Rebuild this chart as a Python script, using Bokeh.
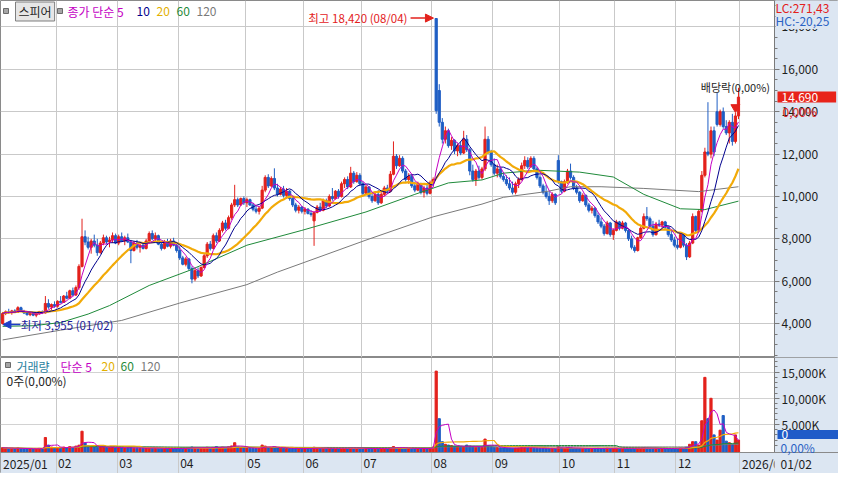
import numpy as np
import pandas as pd
from bokeh.plotting import figure
from bokeh.models import (Range1d, FixedTicker, Label, Arrow, NormalHead,
                          BoxAnnotation, NumeralTickFormatter, Span)
from bokeh.layouts import column
from bokeh.embed import file_html
from bokeh.resources import INLINE
from bokeh.core.properties import value

# ---------------- data ----------------
month_labels = ["2025/01", "02", "03", "04", "05", "06", "07", "08", "09", "10", "11", "12", "2026/0"]
month_start = [0, 18, 38, 58, 80, 99, 118, 141, 161, 183, 201, 221, 242]

open_ = [
    4000,4480,4560,4520,4600,4540,4750,4580,4500,4420,4480,4400,4460,4560,4500,4950,4780,4900,
    4820,5050,5000,5300,5200,5550,5350,5700,6700,8100,7850,7600,7900,7700,7350,7800,8050,7850,7950,8150,
    7800,8100,7900,8050,7850,7450,7800,7600,7700,7550,7900,8250,8000,8150,7750,7550,7850,7650,7900,7700,
    7450,7100,6800,7050,6600,6100,6500,6250,6650,7200,7750,7550,8150,7900,8400,8750,8500,9000,9600,9850,9600,9900,
    9700,9850,9600,9400,9300,9450,10300,10900,10500,10850,10400,10100,10350,10050,10250,9900,9600,9350,9500,
    9300,9400,9200,8850,9250,9500,9350,9800,9550,10000,9900,10250,10000,10600,10800,10450,11100,10700,11000,
    10600,10150,10450,10000,9800,10100,9700,10100,10400,10250,11050,11900,11450,11800,11200,10800,10950,10500,10300,10600,10200,10400,10150,
    10650,18400,15000,13500,12700,13100,12400,12650,12150,12400,12050,12700,12200,11200,10800,11200,10900,11300,12700,12100,
    11500,11100,11300,10950,10800,10600,10400,10200,10600,10800,11450,11700,11400,11800,11300,10900,10500,10200,10000,9800,10100,11700,
    10700,10250,10700,11200,10900,10400,10200,9800,10050,9600,9350,9450,9100,8800,8600,8250,8750,8200,
    8400,8800,8500,8750,8400,8000,7600,7450,8050,8500,9050,8950,8600,8200,8700,8650,8800,8550,8200,7950,
    7700,7600,8200,7700,7150,7800,9050,8400,9300,11000,12100,12000,13100,14000,13400,14000,13300,13000,13500,12600,13800,
]
high = [
    4550,4620,4700,4650,4680,4820,4800,4650,4600,4550,4520,4500,4600,4620,5300,5150,4950,5050,
    5100,5300,5350,5500,5600,5700,5800,6800,8950,8400,8100,8000,8200,8000,7900,8200,8150,8100,8300,8250,
    8200,8300,8150,8250,7950,7900,7950,7800,7850,8000,8350,8400,8300,8200,7850,7950,8000,8000,8050,7800,
    7650,7200,7150,7100,6700,6600,6650,6700,7300,7850,7900,8250,8300,8500,8850,8900,9100,9700,10550,9950,9950,10000,
    9950,9900,9700,9550,9500,10500,11000,11050,10950,11330,10600,10450,10500,10400,10300,10000,9700,9600,9550,
    9500,9450,9350,9300,9600,9700,9900,9900,10100,10400,10300,10350,10700,10900,10950,11400,11200,11150,11100,
    10700,10550,10500,10150,10200,10300,10200,10500,10550,11200,12600,12000,11950,11900,11300,11100,11050,10700,10700,10650,10500,10550,10750,
    10900,18420,15300,13700,13300,13200,12800,12700,12500,12600,13100,12900,12300,11500,11300,11450,11400,13300,12850,12200,
    11800,11500,11400,11150,11000,10900,10700,10700,10900,11600,11900,11850,11900,11900,11400,11000,10600,10550,10250,10200,10150,11950,
    10750,10800,11300,11550,11000,10550,10250,10150,10100,9700,9550,9500,9250,9000,8700,8850,8800,8500,
    8900,8850,8850,8800,8450,8150,7700,8100,8600,9200,9500,9050,8850,8800,8900,8850,8850,8600,8400,8100,
    8000,8300,8250,7800,7900,9200,9100,9400,11200,12300,14450,13300,13300,14900,14100,14200,13600,13600,13900,13950,15130,
]
low = [
    3955,4400,4480,4420,4500,4520,4550,4450,4380,4350,4350,4300,4420,4450,4480,4700,4650,4750,
    4750,4950,4980,5150,5150,5300,5300,5600,6650,7700,7500,7300,7600,7200,7300,7700,7750,7600,7800,7750,
    7700,7850,7700,7800,6850,7400,7500,7350,7500,7500,7850,7950,7900,7700,7450,7500,7600,7550,7650,7350,
    7000,6750,6700,6500,5900,6000,6150,6200,6600,7100,7450,7500,7800,7850,8300,8400,8450,8900,9500,9500,9550,9600,
    9500,9550,9300,9200,9150,9400,10200,10400,10450,10300,10000,10050,9950,9900,9800,9500,9250,9200,9200,
    9150,9150,9050,7670,9200,9300,9300,9450,9500,9800,9850,9900,9950,10400,10350,10400,10600,10650,10500,
    10050,10100,9900,9700,9750,9600,9650,10000,10150,10200,11000,11300,11400,11100,10700,10600,10400,10200,10250,10100,9950,10050,10100,
    10550,13900,13300,12500,12500,12300,12200,12000,11900,11950,12000,12100,11000,10700,10500,10800,10800,11200,12000,11400,
    11000,10900,10850,10700,10500,10300,10100,10100,10400,10750,11300,11300,11350,11200,10800,10400,10100,9900,9600,9700,9600,10600,
    10150,10200,10600,10800,10300,10100,9700,9750,9500,9250,9200,9000,8700,8500,8150,8200,8100,7950,
    8350,8400,8450,8300,7900,7500,7350,7400,8000,8450,8850,8500,8100,8150,8550,8500,8450,8100,7850,7600,
    7500,7550,7600,7000,7100,7750,8300,8350,9250,10900,11900,11800,11900,13300,13300,13200,12900,12500,12400,12500,13650,
]
close = [
    4480,4560,4520,4600,4540,4750,4580,4500,4420,4480,4400,4460,4560,4500,4950,4780,4900,4820,
    5050,5000,5300,5200,5550,5350,5700,6700,8100,7850,7600,7900,7700,7350,7800,8050,7850,7950,8150,7800,
    8100,7900,8050,7850,7450,7800,7600,7700,7550,7900,8250,8000,8150,7750,7550,7850,7650,7900,7700,7450,
    7100,6800,7050,6600,6100,6500,6250,6650,7200,7750,7550,8150,7900,8400,8750,8500,9000,9600,9850,9600,9900,9700,
    9850,9600,9400,9300,9450,10300,10900,10500,10850,10400,10100,10350,10050,10250,9900,9600,9350,9500,9300,
    9400,9200,9150,9250,9500,9350,9800,9550,10000,9900,10250,10000,10600,10800,10450,11100,10700,11000,10600,
    10150,10450,10000,9800,10100,9700,10100,10400,10250,11050,11900,11450,11800,11200,10800,10950,10500,10300,10600,10200,10400,10150,10650,
    10800,14050,13500,12700,13100,12400,12650,12150,12400,12050,12700,12200,11200,10800,11200,10900,11300,12700,12100,11500,
    11100,11300,10950,10800,10600,10400,10200,10600,10800,11450,11700,11400,11800,11300,10900,10500,10200,10000,9800,10100,9700,10700,
    10250,10700,11200,10900,10400,10200,9800,10050,9600,9350,9450,9100,8800,8600,8250,8750,8200,8400,
    8800,8500,8750,8400,8000,7600,7450,8050,8500,9050,8950,8600,8200,8700,8650,8800,8550,8200,7950,7700,
    7600,8200,7700,7150,7800,9050,8400,9300,11000,12100,12000,13100,12100,13400,14000,13300,13000,13500,12600,13800,14690,
]
volume_k = [
    570,460,410,430,380,500,390,350,340,360,330,370,410,390,2500,1050,670,530,
    600,530,670,550,760,630,850,1030,3700,1450,910,770,690,630,740,660,580,610,670,530,
    570,500,480,530,610,460,440,420,450,490,570,450,430,410,390,380,420,400,370,390,
    410,450,430,500,670,530,450,480,570,630,510,600,750,570,660,610,710,890,1500,670,550,530,
    500,450,430,410,420,1050,850,630,570,710,530,450,430,410,400,390,410,380,370,
    380,370,360,630,450,410,430,400,450,420,410,400,480,450,430,570,460,430,410,
    420,400,390,380,390,410,400,420,390,530,770,570,510,450,430,410,400,390,400,380,390,370,450,
    670,15200,6100,1700,1200,1050,950,850,800,750,710,1050,850,750,650,670,630,2200,950,750,
    650,570,530,510,490,470,450,480,510,630,570,500,480,450,440,430,420,450,410,430,400,770,
    530,450,570,500,450,430,410,420,400,390,380,410,430,390,410,450,400,420,
    450,430,410,400,410,450,430,470,450,530,450,420,400,430,390,380,400,390,410,430,
    450,500,470,650,1200,1700,1700,1050,5700,14000,6100,10000,3000,2000,3900,6700,1800,1500,1200,3000,2000,
]
# long moving averages (trading-day index, price)
ma60_idx = [0, 10, 19, 28, 35, 48, 61, 69, 80, 98, 119, 135, 146, 157, 164, 175, 189, 200, 210, 222, 230, 241]
ma60_val = [3870, 3900, 4050, 4450, 4850, 5800, 6500, 7000, 7700, 8400, 9270, 10100, 10640, 10780, 11100, 11240, 11150, 10920, 10100, 9420, 9380, 9780]
ma120_idx = [0, 19, 39, 58, 80, 90, 119, 141, 157, 164, 178, 186, 196, 210, 228, 241]
ma120_val = [3230, 3690, 4150, 4970, 5840, 6430, 7940, 9040, 9640, 9960, 10230, 10460, 10460, 10380, 10230, 10460]
exdiv_idx = 240
hi_text_date = "(08/04)"
lo_text_date = "(01/02)"

n = len(close)
assert all(len(a) == n for a in (open_, high, low, volume_k)), [len(a) for a in (open_, high, low, close, volume_k)]

# ---------------- style ----------------
KFONT = "Noto Sans CJK KR"
RED = "#E3211C"
BLUE = "#1F5EC4"
MAG = "#C400C4"
NAVY = "#00008E"
GOLD = "#F2AA08"
GOLD_T = "#E3B000"
GREEN = "#1F8A3A"
GRAY = "#7A7A7A"
PANEL = "#DCE6F2"
GRID = "#C9C9C9"
OUT = "#8A8A8A"
TXT = "#1E1E1E"

W = 838
PH = 357
VH = 116
XAX = 21
VFH = VH - XAX
X0 = -0.7
PANEL_X = 252.8                  # left edge of the right-hand scale panel (in bar index units)
FW = 774                         # pixels from the left edge to the scale panel
PX = FW / (PANEL_X - X0)
X1 = X0 + W / PX

idx = np.arange(n)
o = np.array(open_, float); h = np.array(high, float); l = np.array(low, float); c = np.array(close, float)
vol = np.array(volume_k, float)
up = c >= o
ccol = np.where(up, RED, BLUE)
prev = np.concatenate([[o[0]], c[:-1]])
vcol = np.where(c >= prev, RED, BLUE)

cs = pd.Series(c)
ma5 = cs.rolling(5, min_periods=1).mean()
ma10 = cs.rolling(10, min_periods=1).mean()
ma20 = cs.rolling(20, min_periods=1).mean()
vs = pd.Series(vol)
vma5 = vs.rolling(5, min_periods=1).mean()
vma20 = vs.rolling(20, min_periods=1).mean()
vma60 = vs.rolling(60, min_periods=1).mean()
vma120 = vs.rolling(120, min_periods=1).mean()

bounds = [s - 0.5 for s in month_start[1:]]
xr = Range1d(X0, X1)


def style_yaxis(ax):
    ax.axis_line_color = "#7A7A7A"
    ax.major_tick_line_color = "#7A7A7A"
    ax.minor_tick_line_color = "#7A7A7A"
    ax.major_tick_out = 5
    ax.major_tick_in = 0
    ax.minor_tick_out = 3
    ax.minor_tick_in = 0
    ax.major_label_standoff = 2
    ax.major_label_text_font = KFONT
    ax.major_label_text_font_size = "12px"
    ax.major_label_text_color = TXT
    ax.fixed_location = PANEL_X


def lab(fig, text, x, y, xu="screen", yu="screen", color=TXT, size="12px",
        align="left", baseline="middle", **kw):
    fig.add_layout(Label(x=x, y=y, x_units=xu, y_units=yu, text=text, text_color=color,
                         text_font=KFONT, text_font_size=size, text_align=align,
                         text_baseline=baseline, **kw))


def square(fig, x, ytop):
    fig.add_layout(BoxAnnotation(left=x, right=x + 5, top=ytop, bottom=ytop - 5,
                                 left_units="screen", right_units="screen",
                                 top_units="screen", bottom_units="screen",
                                 fill_color="#A6A6A6", fill_alpha=1, line_color="#6A6A6A",
                                 line_alpha=1, line_width=1))


def base_fig(height, yr):
    f = figure(width=W, height=height, x_range=xr, y_range=yr,
               output_backend="svg", toolbar_location=None, x_axis_location=None,
               y_axis_location="right", min_border_left=0, min_border_top=0,
               min_border_bottom=0, min_border_right=0)
    f.border_fill_color = PANEL
    f.background_fill_color = "white"
    f.outline_line_color = OUT
    f.xgrid.ticker = FixedTicker(ticks=bounds)
    f.xgrid.grid_line_color = GRID
    return f


# ---------------- price panel ----------------
p = base_fig(PH, Range1d(2400, 19250))
p.ygrid.grid_line_color = GRID
p.yaxis.ticker = FixedTicker(ticks=list(range(4000, 18001, 2000)),
                             minor_ticks=list(range(2500, 19250, 500)))
p.yaxis.formatter = NumeralTickFormatter(format="0,0")
style_yaxis(p.yaxis[0])

p.segment(x0=idx, y0=l, x1=idx, y1=h, line_color=ccol, line_width=1)
p.vbar(x=idx, width=0.72, top=np.maximum(o, c), bottom=np.minimum(o, c),
       fill_color=ccol, line_color=ccol, line_width=1)

p.line(ma120_idx, ma120_val, line_color=GRAY, line_width=1)
p.line(ma60_idx, ma60_val, line_color=GREEN, line_width=1)
p.line(idx, ma20, line_color=GOLD, line_width=2.2)
p.line(idx, ma10, line_color=NAVY, line_width=1)
p.line(idx, ma5, line_color=MAG, line_width=1)

# right-hand scale panel background
p.add_layout(BoxAnnotation(left=PANEL_X, fill_color=PANEL, fill_alpha=1, line_color=None,
                           level="glyph"))

# legend row
square(p, 3, PH - 8)
lab(p, "스피어", 15, PH - 11, background_fill_color="#E6E6E6",
    border_line_color="#7F7F7F", padding=dict(left=3, right=3, top=1, bottom=1))
square(p, 57, PH - 8)
lab(p, "종가 단순 5", 67, PH - 11, color=MAG)
lab(p, "10", 136, PH - 11, color=NAVY)
lab(p, "20", 156, PH - 11, color=GOLD_T)
lab(p, "60", 176, PH - 11, color=GREEN)
lab(p, "120", 196, PH - 11, color=GRAY)

# high / low annotations
hi_i = int(np.argmax(h)); lo_i = int(np.argmin(l))
p.add_layout(Arrow(end=NormalHead(size=8, fill_color=RED, line_color=RED),
                   x_start=hi_i - 8.4, y_start=h[hi_i], x_end=hi_i - 0.9, y_end=h[hi_i],
                   line_color=RED, line_width=1.5))
lab(p, f"최고 {h[hi_i]:,.0f} {hi_text_date}", hi_i - 9.4, h[hi_i], xu="data", yu="data",
    color=RED, size="11.5px", align="right")
p.add_layout(Arrow(end=NormalHead(size=8, fill_color="#1E3EC8", line_color="#1E3EC8"),
                   x_start=lo_i + 5.8, y_start=l[lo_i], x_end=lo_i + 0.1, y_end=l[lo_i],
                   line_color="#1E3EC8", line_width=1.5))
lab(p, f"최저 {l[lo_i]:,.0f} {lo_text_date}", lo_i + 5.9, l[lo_i], xu="data", yu="data",
    color="#1C1C9A", size="11.5px")

# ex-dividend marker
p.scatter([exdiv_idx], [h[exdiv_idx] + 260], marker="inverted_triangle", size=9,
          fill_color=RED, line_color=RED)
lab(p, "배당락(0,00%)", exdiv_idx, h[exdiv_idx], xu="data", yu="data", size="11px",
    align="center", y_offset=26)

# right panel texts (HC first so that LC sits on top of it)
ytop = p.y_range.end
lab(p, "HC:-20,25", PANEL_X, ytop, xu="data", yu="data", color="#2A62C4",
    x_offset=1, y_offset=-20, background_fill_color=PANEL)
lab(p, "LC:271,43", PANEL_X, ytop, xu="data", yu="data", color=RED,
    x_offset=1, y_offset=-7, background_fill_color=PANEL)
lab(p, f"{c[-1]:,.0f}", PANEL_X, c[-1], xu="data", yu="data", color="white",
    x_offset=3, background_fill_color="#E8231A",
    padding=dict(left=4, right=18, top=1, bottom=1))
lab(p, "0,00%", PANEL_X, c[-1], xu="data", yu="data", color=RED, x_offset=8, y_offset=-14)

# ---------------- volume panel ----------------
V_TOP = 17800
V_BASE = -370
V_BOTTOM = V_BASE - XAX * (V_TOP - V_BASE) / VFH
V_ROWMID = V_BASE - (XAX / 2) * (V_TOP - V_BASE) / VFH
vp = base_fig(VH, Range1d(V_BOTTOM, V_TOP))
vp.ygrid.grid_line_color = "#D2D2D2"
vp.yaxis.ticker = FixedTicker(ticks=[5000, 10000, 15000], minor_ticks=list(range(1000, 17001, 1000)))
vp.yaxis.major_label_overrides = {5000: "5,000K", 10000: "10,000K", 15000: "15,000K"}
style_yaxis(vp.yaxis[0])
vp.yaxis[0].bounds = (V_BASE, V_TOP)

# date-axis row background (grid lines stay visible on it as separators)
vp.add_layout(BoxAnnotation(top=V_BASE, fill_color=PANEL, fill_alpha=1, line_color=None,
                            level="image"))

vp.vbar(x=idx, width=0.72, top=vol, bottom=V_BASE, fill_color=vcol, line_color=vcol, line_width=1)
vp.line(idx, vma120, line_color=GRAY, line_width=1)
vp.line(idx, vma60, line_color=GREEN, line_width=1)
vp.line(idx, vma20, line_color=GOLD, line_width=1.2)
vp.line(idx, vma5, line_color=MAG, line_width=1)

vp.text(x=[s - 0.5 for s in month_start], y=[V_ROWMID] * len(month_start), text=month_labels,
        x_offset=2, text_baseline="middle", text_align="left", text_font=value(KFONT),
        text_font_size="12px", text_color=TXT)

vp.add_layout(BoxAnnotation(left=PANEL_X, fill_color=PANEL, fill_alpha=1, line_color=None,
                            level="glyph"))
vp.add_layout(Span(location=V_BASE, dimension="width", line_color=OUT, line_width=1))

square(vp, 5, VH - 5)
lab(vp, "거래량", 16, VH - 9, color="#2A7F9E")
lab(vp, "단순 5", 60, VH - 9, color=MAG)
lab(vp, "20", 101, VH - 9, color=GOLD_T)
lab(vp, "60", 120, VH - 9, color=GREEN)
lab(vp, "120", 140, VH - 9, color=GRAY)
lab(vp, "0주(0,00%)", 6, VH - 23)

lab(vp, "0", PANEL_X, V_BASE, xu="data", yu="data", color="white", x_offset=3, y_offset=18,
    background_fill_color="#1F5BC8", padding=dict(left=4, right=50, top=0, bottom=0))
lab(vp, "0,00%", PANEL_X, V_BASE, xu="data", yu="data", color="#2A62C4", x_offset=6, y_offset=5)
lab(vp, "01/02", PANEL_X, V_ROWMID, xu="data", yu="data", x_offset=6)

layout = column(p, vp)
open("out.html", "w").write(file_html(layout, INLINE, title="스피어"))
